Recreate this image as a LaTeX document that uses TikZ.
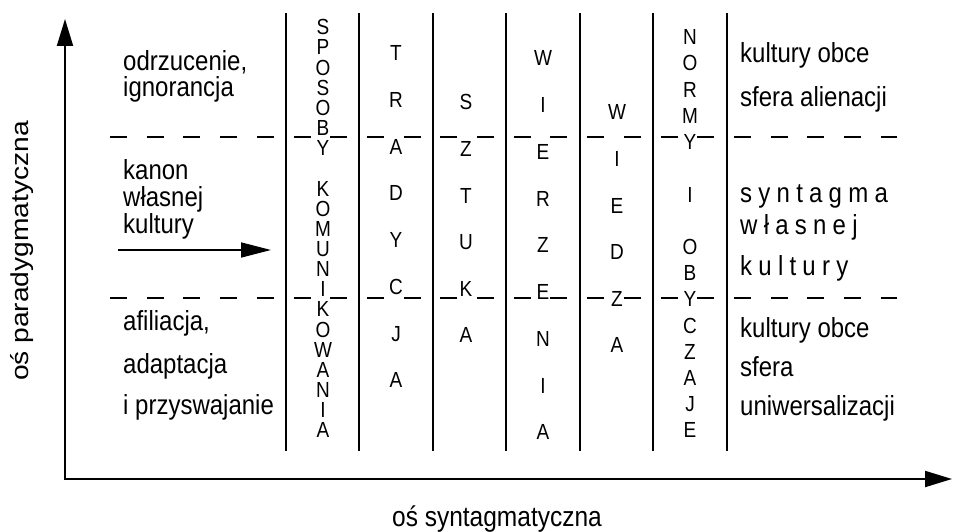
\documentclass[tikz,border=0pt]{standalone}
\usepackage{fontspec}
\setmainfont{Liberation Sans}
\usetikzlibrary{arrows.meta}

% glyphs are set slightly taller than the font draws them
\newcommand\tallbox[1]{\scalebox{1}[1.15]{#1}}
\newcommand\widebox[1]{\scalebox{1.15}[1]{#1}}
\newcommand\spaced[1]{{\addfontfeature{LetterSpace=26}#1}}

% one column of stacked capitals: name, x, centre of first letter, step, letter/index list
\newcommand\lettercolumn[5]{%
  \foreach \ch/\k in {#5}{%
    \node[letter] (#1-\k) at (#2,{#3+#4*\k+7.8}) {\tallbox{\ch}};}}

\begin{document}
\begin{tikzpicture}[x=1pt,y=-1pt,
  txt/.style={font=\fontsize{24}{28}\selectfont, anchor=base west, inner sep=0pt},
  letter/.style={font=\fontsize{19}{22}\selectfont, anchor=base, inner sep=0pt},
  axislabel/.style={font=\fontsize{24.5}{29}\selectfont, anchor=base, inner sep=0pt},
  axis/.style={line width=2pt, {Triangle[length=27pt,width=16pt]}-{Triangle[length=27pt,width=16pt]}},
  sep/.style={line width=1.2pt},
  zone/.style={line width=1.1pt, dash pattern=on 17pt off 19.7pt},
  flow/.style={line width=1.6pt, -{Triangle[length=30pt,width=15pt]}},
]
\useasboundingbox (0,0) rectangle (955,532);

% axes
\coordinate (origin) at (65,479);
\coordinate (ytip) at (65,19);
\coordinate (xtip) at (952,479);
\draw[axis] (ytip) -- (origin) -- (xtip);
\node[axislabel, rotate=90] (ylabel) at (28,251) {\widebox{oś paradygmatyczna}};
\node[axislabel] (xlabel) at (497,526) {\tallbox{oś syntagmatyczna}};

% column separators
\foreach \x [count=\i] in {286,359,433,506,580,653,727}{
  \coordinate (top\i) at (\x,13);
  \coordinate (bot\i) at (\x,451);
  \draw[sep] (top\i) -- (bot\i);
}

% zone boundaries
\coordinate (upperL) at (110,137);
\coordinate (upperR) at (897,137);
\coordinate (lowerL) at (110,298);
\coordinate (lowerR) at (897,298);
\draw[zone] (upperL) -- (upperR);
\draw[zone] (lowerL) -- (lowerR);

% left zone texts
\node[txt] (l1) at (123,70.5) {\tallbox{odrzucenie,}};
\node[txt] (l2) at (123,97) {\tallbox{ignorancja}};
\node[txt] (l3) at (123,179) {\tallbox{kanon}};
\node[txt] (l4) at (123,206) {\tallbox{własnej}};
\node[txt] (l5) at (123,233) {\tallbox{kultury}};
\node[txt] (l6) at (123,330) {\tallbox{afiliacja,}};
\node[txt] (l7) at (123,373) {\tallbox{adaptacja}};
\node[txt] (l8) at (123,414) {\tallbox{i przyswajanie}};

% movement arrow
\coordinate (flowA) at (118,250);
\coordinate (flowB) at (271,250);
\draw[flow] (flowA) -- (flowB);

% right zone texts
\node[txt] (r1) at (740,63) {\tallbox{kultury obce}};
\node[txt] (r2) at (740,107) {\tallbox{sfera alienacji}};
\node[txt] (r3) at (740,202) {\tallbox{\spaced{syntagma}}};
\node[txt] (r4) at (740,234) {\tallbox{\spaced{własnej}}};
\node[txt] (r5) at (740,275) {\tallbox{\spaced{kultury}}};
\node[txt] (r6) at (740,337) {\tallbox{kultury obce}};
\node[txt] (r7) at (740,376) {\tallbox{sfera}};
\node[txt] (r8) at (740,415) {\tallbox{uniwersalizacji}};

% stacked column headings
\lettercolumn{sk}{323}{27}{20.15}{S/0,P/1,O/2,S/3,O/4,B/5,Y/6,K/8,O/9,M/10,U/11,N/12,I/13,K/14,O/15,W/16,A/17,N/18,I/19,A/20}
\lettercolumn{tr}{396}{53}{46.7}{T/0,R/1,A/2,D/3,Y/4,C/5,J/6,A/7}
\lettercolumn{sz}{466}{102}{46.6}{S/0,Z/1,T/2,U/3,K/4,A/5}
\lettercolumn{wi}{543}{58}{46.75}{W/0,I/1,E/2,R/3,Z/4,E/5,N/6,I/7,A/8}
\lettercolumn{wd}{617}{112}{46.6}{W/0,I/1,E/2,D/3,Z/4,A/5}
\lettercolumn{no}{690}{37}{26.2}{N/0,O/1,R/2,M/3,Y/4,I/6,O/8,B/9,Y/10,C/11,Z/12,A/13,J/14,E/15}
\end{tikzpicture}
\end{document}
